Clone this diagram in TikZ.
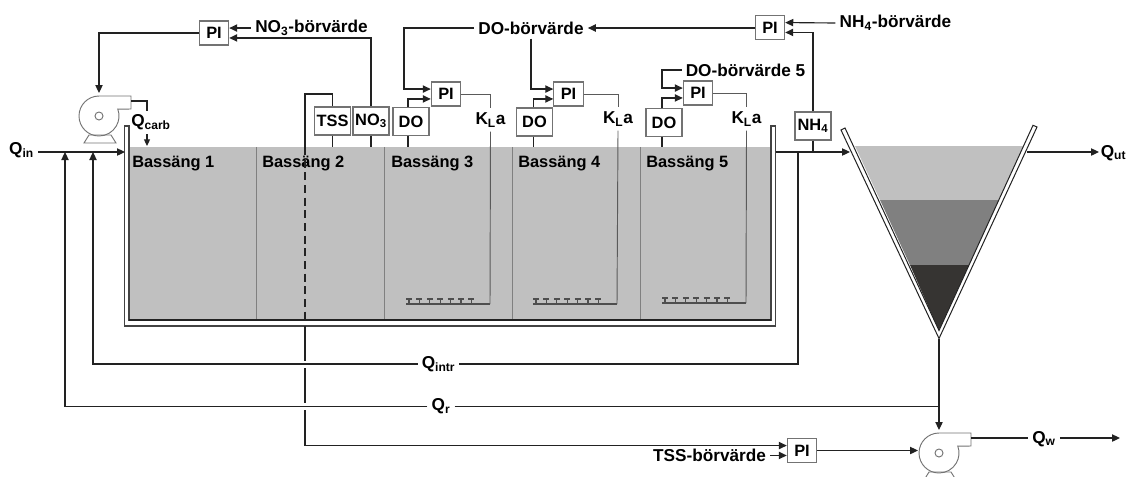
\documentclass[tikz,border=0pt]{standalone}
\usepackage{fontspec}
\setmainfont{Liberation Sans}
\usetikzlibrary{arrows.meta,calc}
\definecolor{wc}{RGB}{192,192,192}
\definecolor{mc}{RGB}{128,128,128}
\definecolor{dc}{RGB}{54,52,50}
\definecolor{lnc}{RGB}{34,34,34}
\definecolor{sc}{RGB}{90,90,90}
\definecolor{bc}{RGB}{115,115,115}
\tikzset{every node/.style={font=\fontsize{12.3}{14}\selectfont\bfseries,text=black},
 lab/.style={font=\fontsize{12.9}{15}\selectfont\bfseries,inner sep=3pt},
 pibox/.style={draw=bc,fill=white,line width=.85pt,minimum width=22pt,minimum height=18pt,inner sep=0pt},
 sens/.style={pibox,minimum width=27pt,minimum height=21pt},
 wire/.style={draw=lnc,line width=.85pt},
 arr/.style={wire,-{Triangle[length=6pt,width=5.5pt]}},
 sig/.style={draw=sc,line width=.7pt},
 pump/.pic={
  \draw[draw=bc,fill=white,line width=.7pt] (32,-20)--(0,-20) arc[start angle=270,end angle=-20,radius=20]--(32,-7)--cycle;
  \draw[draw=bc,line width=.7pt] (0,0) circle[radius=4];
  \draw[draw=bc,line width=.7pt] (-10,19)--(12,19)--(17,27)--(-15,27)--cycle;
  \coordinate (-top) at (0,-23);\coordinate (-left) at (-21,-2);\coordinate (-out) at (32,-15);},
 diffuser/.pic={
  \draw[draw=lnc!80,line width=.85pt] (0,0)--(84,0);
  \foreach \i in {3,13.4,23.8,34.2,44.6,55,65.4}{\draw[draw=lnc!80,line width=.85pt] (\i,0)--(\i,-5) (\i-3,-5)--(\i+3,-5);}
  \coordinate (-end) at (84,0);}}
\begin{document}
\begin{tikzpicture}[x=.75pt,y=-.75pt]
\useasboundingbox (0,0) rectangle (1126,476);
% aktiv slamanlaggning
\node[fill=wc,minimum width=481.5pt,minimum height=129.75pt,inner sep=0pt,anchor=north west] (tank) at (129,147) {};
\draw[draw=mc,line width=.7pt] (256,147)--(256,320) (384,147)--(384,320) (512,147)--(512,320) (640,147)--(640,320);
\draw[draw=lnc!85,fill=white,line width=.8pt] (124.5,126)--(124.5,326)--(775.5,326)--(775.5,126)--(771,126)--(771,320)--(129,320)--(129,126)--cycle;
\draw[draw=lnc,line width=1.1pt] (129,320)--(771,320);
\node[anchor=west,inner sep=0pt] (ba) at (132,164) {Bassäng 1};
\node[anchor=west,inner sep=0pt] (bb) at (262,164) {Bassäng 2};
\node[anchor=west,inner sep=0pt] (bc3) at (391,164) {Bassäng 3};
\node[anchor=west,inner sep=0pt] (bd) at (518,164) {Bassäng 4};
\node[anchor=west,inner sep=0pt] (be) at (646,164) {Bassäng 5};
% sedimentering
\fill[wc] (855,146)--(1024,146)--(999,200)--(880,200)--cycle;
\fill[mc] (880,200)--(999,200)--(969,265)--(910,265)--cycle;
\fill[dc] (910,265)--(969,265)--(939,331)--cycle;
\draw[draw=lnc,fill=white,line width=.75pt] (841,130)--(939,338.5)--(1037,127)--(1033,125.3)--(939,330.5)--(845,128)--cycle;
% pumpar
\pic (pa) at (99,116) {pump};
\pic (pb) at (939,453) {pump};
% regulatorer och givare
\node[pibox] (pin) at (214,33) {PI};
\node[pibox] (pic3) at (446,94) {PI};
\node[pibox] (pic4) at (568.5,94) {PI};
\node[pibox] (pic5) at (698,93) {PI};
\node[pibox] (pih) at (770,27.5) {PI};
\node[pibox] (pit) at (802,450.5) {PI};
\node[sens] (tss) at (332.5,121) {TSS};
\node[sens] (no) at (371,121) {NO\textsubscript{3}};
\node[sens] (do3) at (411,121.5) {DO};
\node[sens] (do4) at (534.5,122) {DO};
\node[sens] (do5) at (664,122.5) {DO};
\node[sens] (nh) at (813,126) {NH\textsubscript{4}};
% texter
\node[lab] (nob) at (311.5,28) {NO\textsubscript{3}-börvärde};
\node[lab] (dob) at (531,28) {DO-börvärde};
\node[lab] (dob5) at (745.5,70) {DO-börvärde 5};
\node[lab] (nhb) at (895.5,23) {NH\textsubscript{4}-börvärde};
\node[lab] (tsb) at (709.5,455) {TSS-börvärde};
\node[lab] (kl3) at (490.5,120) {K\textsubscript{L}a};
\node[lab] (kl4) at (618,119) {K\textsubscript{L}a};
\node[lab] (kl5) at (746.5,119) {K\textsubscript{L}a};
\node[lab] (qin) at (21.5,150) {Q\textsubscript{in}};
\node[lab] (qc) at (151,122) {Q\textsubscript{carb}};
\node[lab,anchor=west,inner sep=0pt] (qut) at (1100.5,153) {Q\textsubscript{ut}};
\node[lab] (qi) at (438.5,364) {Q\textsubscript{intr}};
\node[lab] (qr) at (441,406.5) {Q\textsubscript{r}};
\node[lab] (qw) at (1044,439) {Q\textsubscript{w}};
% punkter
\coordinate (wl) at (125,152);\coordinate (rj) at (65,152);\coordinate (ij) at (93,152);
\coordinate (oj) at (798,152);\coordinate (wr) at (775.5,152);\coordinate (nj) at (813,152);
\coordinate (sl) at (850,152);\coordinate (sr) at (1027,152);\coordinate (ut) at (1099,152);
\coordinate (sb) at (939,338.5);\coordinate (rm) at (939,406.5);
\coordinate (ca) at (147,101);\coordinate (cb) at (147,111);\coordinate (cc) at (147,134);\coordinate (cd) at (147,146);
\coordinate (ta) at (305,147);\coordinate (tb) at (305,94);\coordinate (td) at (305,320);
\coordinate (ga) at (305,326);\coordinate (gb) at (305,361);\coordinate (gc) at (305,368);\coordinate (gd) at (305,403);\coordinate (ge) at (305,410);
\coordinate (k3) at (404,60);\coordinate (k5) at (662,80);\coordinate (qe) at (1120,438);
\pic (dfa) at (406,304) {diffuser};
\pic (dfb) at (533,304) {diffuser};
\pic (dfc) at (662,303) {diffuser};
% flode
\draw[arr] (qin.east |- wl)--(wl);
\draw[arr] (qr.west)-|(rj);
\draw[arr] (qi.west)-|(ij);
\draw[wire] (qi.east)-|(oj);
\draw[wire] (wr)--(oj);\draw[arr] (oj)--(sl);
\draw[arr] (sr)--(ut);
\draw[wire,line width=1.2pt] (qr.east)--(rm);
\draw[arr] (sb)--(pb-top);
\draw[wire] (pa-out)-|(cb);
\draw[arr,-{Triangle[length=5pt,width=4.5pt]}] (cc)--(cd);
\draw[wire] (pb-out)--(qw.west |- pb-out);
\draw[arr] (qw.east |- qe)--(qe);
% reglering
\draw[arr] (pin.west)-|(pa-top);
\draw[arr] (nob.west |- pin.18)--(pin.18);
\draw[arr] (no.north)|-(pin.-18);
\draw[wire] (no.south)--(no.south |- tank.north);
\draw[wire] (tss.south)--(tss.south |- tank.north);
\draw[wire,line width=1.1pt] (ta)--(tb)-|(tss.north);
\draw[wire,dash pattern=on 6pt off 3.5pt] (ta)--(td);
\draw[wire] (ga)--(gb) (gc)--(gd);
\draw[arr] (ge)|-(pit.162);
\draw[arr] (tsb.east |- pit.198)--(pit.198);
\draw[arr] (pit.east)--(pb-left |- pit.east);
\draw[arr] (pih.west |- dob.east)--(dob.east);
\draw[wire] (dob.west)-|(k3);
\draw[arr] (k3)|-(pic3.162);
\draw[arr] (dob.south)|-(pic4.162);
\draw[wire] (dob5.west)-|(k5);
\draw[arr] (k5)|-(pic5.162);
\draw[arr] ([xshift=-2.25pt]do3.north)|-(pic3.198);
\draw[arr] ([xshift=-1pt]do4.north)|-(pic4.198);
\draw[arr] ([xshift=-1.5pt]do5.north)|-(pic5.198);
\draw[wire] ([xshift=-2.25pt]do3.south)--([xshift=-2.25pt]do3.south |- tank.north);
\draw[wire] ([xshift=-1pt]do4.south)--([xshift=-1pt]do4.south |- tank.north);
\draw[wire] ([xshift=-1.5pt]do5.south)--([xshift=-1.5pt]do5.south |- tank.north);
\draw[sig] (pic3.east)-|(kl3.north);
\draw[sig] (pic4.east)-|(kl4.north);
\draw[sig] (pic5.east)-|(kl5.north);
\draw[sig] (kl3.south)--(dfa-end);
\draw[sig] (kl4.south)--(dfb-end);
\draw[sig] (kl5.south)--(dfc-end);
\draw[arr] (nhb.west)--(pih.18);
\draw[arr] (nh.north)|-(pih.-18);
\draw[wire] (nh.south)--(nj);
\end{tikzpicture}
\end{document}
